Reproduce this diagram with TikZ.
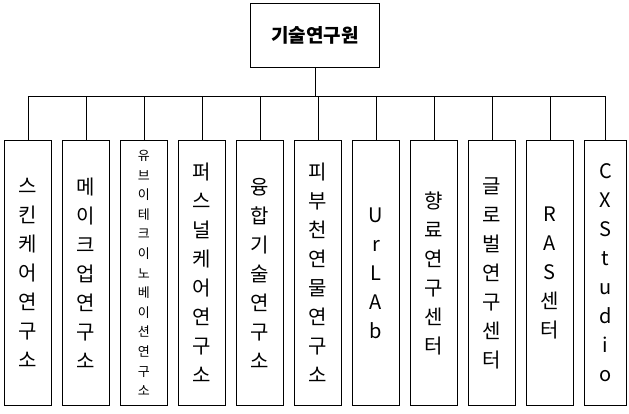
\documentclass[tikz,border=0pt]{standalone}
\usepackage{fontspec}
\setmainfont{Noto Sans CJK KR}
\begin{document}
\begin{tikzpicture}[x=1pt,y=-1pt,
  unit/.style={draw,line width=0.9pt,minimum width=47pt,minimum height=265pt,anchor=north west,inner sep=0pt,align=center,font=\fontsize{20}{29}\selectfont},
  small/.style={font=\fontsize{13}{19.6}\selectfont},
  narrow/.style={minimum width=42pt},
  ln/.style={line width=0.9pt}]
\useasboundingbox (0,0) rectangle (629,413);
\node[draw,line width=0.9pt,minimum width=129pt,minimum height=64pt,font=\fontsize{19}{22}\selectfont\bfseries] (top) at (315,35) {기술연구원};
\coordinate (bus) at (316,96);
\draw[ln] (top.south) -- (top.south|-bus);
\foreach \i/\t/\s in {
 1/{스\\킨\\케\\어\\연\\구\\소}/unit,
 2/{메\\이\\크\\업\\연\\구\\소}/unit,
 3/{유\\브\\이\\테\\크\\이\\노\\베\\이\\션\\연\\구\\소}/small,
 4/{퍼\\스\\널\\케\\어\\연\\구\\소}/unit,
 5/{융\\합\\기\\술\\연\\구\\소}/unit,
 6/{피\\부\\천\\연\\물\\연\\구\\소}/unit,
 7/{U\\r\\L\\A\\b}/unit,
 8/{향\\료\\연\\구\\센\\터}/unit,
 9/{글\\로\\벌\\연\\구\\센\\터}/unit,
 10/{R\\A\\S\\센\\터}/unit,
 11/{C\\X\\S\\t\\u\\d\\i\\o}/narrow}
{
 \node[unit,\s] (b\i) at ({4+58*(\i-1)},140) {\t};
 \draw[ln] (b\i.north) -- (b\i.north|-bus);
}
\draw[ln] (b1.north|-bus) -- (b11.north|-bus);
\end{tikzpicture}
\end{document}
